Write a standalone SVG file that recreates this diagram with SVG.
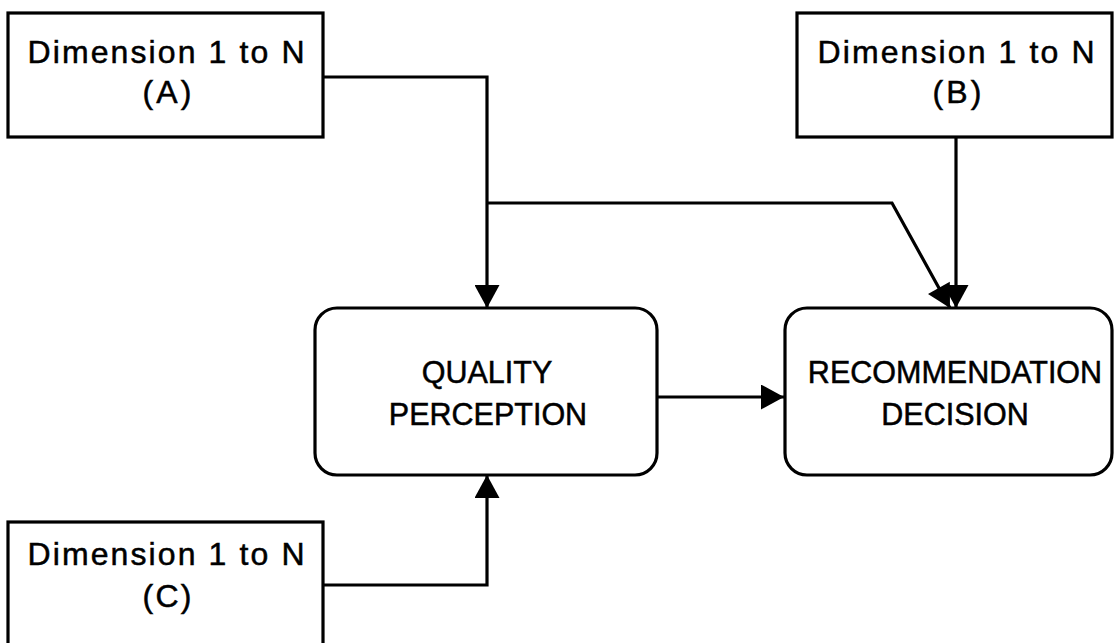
<svg xmlns="http://www.w3.org/2000/svg" width="1115" height="643" viewBox="0 0 1115 643">
  <defs>
    <marker id="arrow" markerUnits="userSpaceOnUse" markerWidth="25" markerHeight="25" viewBox="0 0 23 25" refX="23" refY="12.5" orient="auto">
      <path d="M0,0 L23,12.5 L0,25 Z" fill="#000"/>
    </marker>
  </defs>
  <style>
    .box { fill: #fff; stroke: #000; stroke-width: 3.2; }
    .dim { font-family: "Liberation Sans", Arial, sans-serif; font-size: 32px; fill: #000; stroke: #000; stroke-width: 0.5; text-anchor: middle; }
    .stage { font-family: "Liberation Sans", Arial, sans-serif; font-size: 30.5px; fill: #000; stroke: #000; stroke-width: 0.5; text-anchor: middle; }
    .link { fill: none; stroke: #000; stroke-width: 3.2; stroke-linejoin: miter; }
    .arrowed { marker-end: url(#arrow); }
  </style>
  <rect width="1115" height="643" fill="#fff"/>

  <!-- connectors -->
  <g id="connectors">
    <path class="link arrowed" d="M323,77 H487 V308"/>
    <path class="link arrowed" d="M487,203 H892 L950,308"/>
    <path class="link arrowed" d="M956,137 V308"/>
    <path class="link arrowed" d="M657,397 H784"/>
    <path class="link arrowed" d="M323,585 H487 V475"/>
  </g>

  <!-- dimension inputs -->
  <g id="dimA">
    <rect class="box" x="8" y="13" width="315" height="124"/>
    <text class="dim" x="166" y="63" textLength="277" lengthAdjust="spacing">Dimension 1 to N</text>
    <text class="dim" x="167" y="103" textLength="49" lengthAdjust="spacing">(A)</text>
  </g>
  <g id="dimB">
    <rect class="box" x="797" y="13" width="315" height="124"/>
    <text class="dim" x="956" y="63" textLength="277" lengthAdjust="spacing">Dimension 1 to N</text>
    <text class="dim" x="957" y="103" textLength="49" lengthAdjust="spacing">(B)</text>
  </g>
  <g id="dimC">
    <rect class="box" x="8" y="522" width="315" height="130"/>
    <text class="dim" x="166" y="565" textLength="277" lengthAdjust="spacing">Dimension 1 to N</text>
    <text class="dim" x="167" y="607" textLength="49" lengthAdjust="spacing">(C)</text>
  </g>

  <!-- processing stages -->
  <g id="quality">
    <rect class="box" x="315" y="308" width="342" height="167" rx="22" ry="22"/>
    <text class="stage" x="487" y="383">QUALITY</text>
    <text class="stage" x="488" y="425">PERCEPTION</text>
  </g>
  <g id="recommendation">
    <rect class="box" x="785" y="308" width="327" height="167" rx="22" ry="22"/>
    <text class="stage" x="955" y="383">RECOMMENDATION</text>
    <text class="stage" x="955" y="425">DECISION</text>
  </g>
</svg>
